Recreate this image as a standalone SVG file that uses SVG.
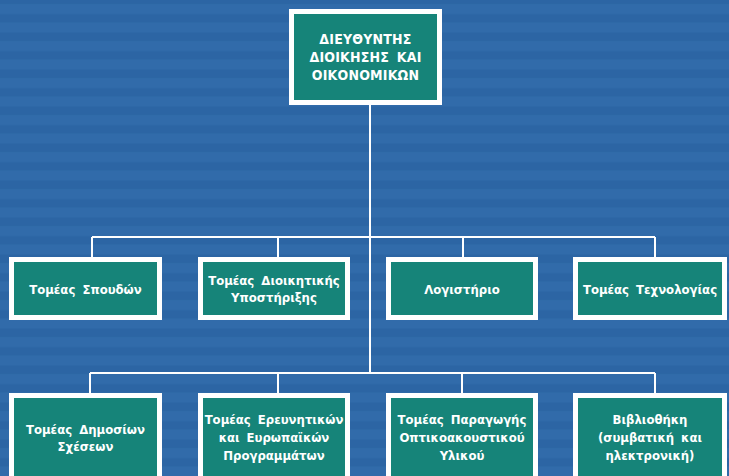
<svg xmlns="http://www.w3.org/2000/svg" width="729" height="476" viewBox="0 0 729 476">
  <defs>
    <pattern id="rows" width="729" height="18.5" patternUnits="userSpaceOnUse">
      <rect width="729" height="18.5" fill="#2c65a4"/>
      <rect y="4" width="729" height="10" fill="#336fae" opacity="0.6"/>
    </pattern>
    <style>
      .box { fill: #168479; stroke: #ffffff; stroke-width: 5; }
      .lbl { fill: #ffffff; font-family: "DejaVu Sans Condensed", "Liberation Sans Narrow", "Liberation Sans", sans-serif; font-stretch: condensed; font-weight: bold; font-size: 13px; letter-spacing: 0px; word-spacing: 3px; text-anchor: middle; }
      .top { font-size: 14px; letter-spacing: 0.2px; }
      .con { stroke: #ffffff; stroke-width: 2; fill: none; }
    </style>
  </defs>
  <rect width="729" height="476" fill="url(#rows)"/>

  <g id="connectors">
    <path class="con" d="M370 105 V373"/>
    <path class="con" d="M92 237 H655 M92 237 V257 M278 237 V257 M463 237 V257 M655 237 V257"/>
    <path class="con" d="M90 373 H655 M90 373 V393 M278 373 V393 M462 373 V393 M655 373 V393"/>
  </g>

  <g id="director">
    <rect class="box" x="291.5" y="11.5" width="148" height="91"/>
    <text class="lbl top" x="365.5" y="44">ΔΙΕΥΘΥΝΤΗΣ</text>
    <text class="lbl top" x="365.5" y="62">ΔΙΟΙΚΗΣΗΣ  ΚΑΙ</text>
    <text class="lbl top" x="365.5" y="80">ΟΙΚΟΝΟΜΙΚΩΝ</text>
  </g>

  <g id="spoudon">
    <rect class="box" x="11.5" y="259.5" width="148" height="58"/>
    <text class="lbl" x="85.5" y="294">Τομέας Σπουδών</text>
  </g>
  <g id="dioikitikis">
    <rect class="box" x="200.5" y="259.5" width="147" height="58"/>
    <text class="lbl" x="274" y="285">Τομέας Διοικητικής</text>
    <text class="lbl" x="274" y="302">Υποστήριξης</text>
  </g>
  <g id="logistirio">
    <rect class="box" x="388.5" y="259.5" width="147" height="58"/>
    <text class="lbl" x="462" y="294">Λογιστήριο</text>
  </g>
  <g id="technologias">
    <rect class="box" x="575.5" y="259.5" width="149" height="58"/>
    <text class="lbl" x="650" y="294">Τομέας Τεχνολογίας</text>
  </g>

  <g id="dimosion">
    <rect class="box" x="11.5" y="395.5" width="148" height="100"/>
    <text class="lbl" x="85.5" y="434">Τομέας Δημοσίων</text>
    <text class="lbl" x="85.5" y="451">Σχέσεων</text>
  </g>
  <g id="ereunitikon">
    <rect class="box" x="200.5" y="395.5" width="147" height="100"/>
    <text class="lbl" x="274" y="424">Τομέας Ερευνητικών</text>
    <text class="lbl" x="274" y="442">και Ευρωπαϊκών</text>
    <text class="lbl" x="274" y="460">Προγραμμάτων</text>
  </g>
  <g id="paragogis">
    <rect class="box" x="388.5" y="395.5" width="147" height="100"/>
    <text class="lbl" x="462" y="424">Τομέας Παραγωγής</text>
    <text class="lbl" x="462" y="442">Οπτικοακουστικού</text>
    <text class="lbl" x="462" y="460">Υλικού</text>
  </g>
  <g id="vivliothiki">
    <rect class="box" x="575.5" y="395.5" width="149" height="100"/>
    <text class="lbl" x="650" y="424">Βιβλιοθήκη</text>
    <text class="lbl" x="650" y="442">(συμβατική και</text>
    <text class="lbl" x="650" y="460">ηλεκτρονική)</text>
  </g>
</svg>
